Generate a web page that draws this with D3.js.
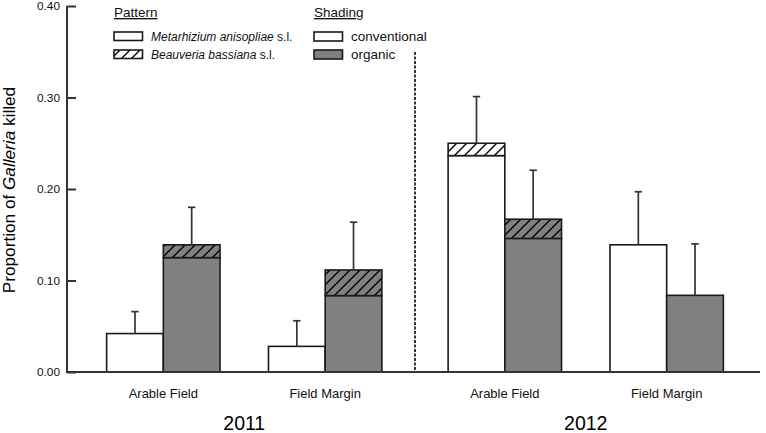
<!DOCTYPE html>
<html>
<head>
<meta charset="utf-8">
<script src="https://cdn.jsdelivr.net/npm/d3@7"></script>
<style>
  html, body { margin: 0; padding: 0; background: #fff; }
  svg { display: block; font-family: "Liberation Sans", Arial, sans-serif; }
</style>
</head>
<body>
<svg id="chart" width="766" height="433"></svg>
<script>
// ---- data ----
const years = ["2011", "2012"];
const habitats = ["Arable Field", "Field Margin"];
const managements = ["conventional", "organic"];
// order: 2011 AF conv, 2011 AF org, 2011 FM conv, 2011 FM org, 2012 AF conv, 2012 AF org, 2012 FM conv, 2012 FM org
const metarhizium = [0.042, 0.125, 0.028, 0.0835, 0.2365, 0.146, 0.139, 0.0838];
const beauveria   = [0.000, 0.014, 0.000, 0.0280, 0.0135, 0.021, 0.000, 0.0000];
const upperError  = [0.066, 0.180, 0.056, 0.1637, 0.301, 0.2205, 0.197, 0.140];
const yTicks = [0, 0.1, 0.2, 0.3, 0.4];

const records = [];
let k = 0;
years.forEach(y => habitats.forEach(h => managements.forEach(m => {
  records.push({year: y, habitat: h, management: m,
    meta: metarhizium[k], beau: beauveria[k], err: upperError[k]});
  k++;
})));

// ---- layout ----
const svg = d3.select("#chart");
const left = 66.5, baseY = 372, topY = 6, right = 760;

const y = d3.scaleLinear().domain([0, 0.4]).range([baseY, topY]);
const xYear = d3.scaleBand().domain(years).range([73.5, 756.5]).padding(0);
const xHab = d3.scalePoint().domain(habitats).range([0, xYear.bandwidth()]).padding(0.555);
const barW = 56.7;
const xMan = d3.scaleBand().domain(managements).range([-barW, barW]).padding(0);
const fillOf = {conventional: "#ffffff", organic: "#808080"};

// hatch pattern
const defs = svg.append("defs");
const pat = defs.append("pattern").attr("id", "hatch")
  .attr("patternUnits", "userSpaceOnUse").attr("width", 10).attr("height", 10);
pat.append("path").attr("d", "M0,10 L10,0 M-2,2 L2,-2 M8,12 L12,8")
  .attr("stroke", "#000").attr("stroke-width", 1.4).attr("fill", "none");

const cx = d => xYear(d.year) + xHab(d.habitat);

// bars
const g = svg.append("g");
const bars = g.selectAll("g.bar").data(records).join("g").attr("class", "bar");
// Metarhizium (plain) part
bars.append("rect")
  .attr("x", d => cx(d) + xMan(d.management))
  .attr("width", xMan.bandwidth())
  .attr("y", d => y(d.meta))
  .attr("height", d => y(0) - y(d.meta))
  .attr("fill", d => fillOf[d.management])
  .attr("stroke", "#1a1a1a").attr("stroke-width", 1.6);
// Beauveria (hatched) part
const hb = bars.filter(d => d.beau > 0);
hb.append("rect")
  .attr("x", d => cx(d) + xMan(d.management))
  .attr("width", xMan.bandwidth())
  .attr("y", d => y(d.meta + d.beau))
  .attr("height", d => y(d.meta) - y(d.meta + d.beau))
  .attr("fill", d => fillOf[d.management]);
hb.append("rect")
  .attr("x", d => cx(d) + xMan(d.management))
  .attr("width", xMan.bandwidth())
  .attr("y", d => y(d.meta + d.beau))
  .attr("height", d => y(d.meta) - y(d.meta + d.beau))
  .attr("fill", "url(#hatch)")
  .attr("stroke", "#1a1a1a").attr("stroke-width", 1.6);

// error bars (upper only)
const eb = bars.append("g").attr("stroke", "#333").attr("stroke-width", 1.7);
eb.append("line")
  .attr("x1", d => cx(d) + xMan(d.management) + xMan.bandwidth() / 2)
  .attr("x2", d => cx(d) + xMan(d.management) + xMan.bandwidth() / 2)
  .attr("y1", d => y(d.meta + d.beau))
  .attr("y2", d => y(d.err));
eb.append("line")
  .attr("x1", d => cx(d) + xMan(d.management) + xMan.bandwidth() / 2 - 3.7)
  .attr("x2", d => cx(d) + xMan(d.management) + xMan.bandwidth() / 2 + 3.7)
  .attr("y1", d => y(d.err))
  .attr("y2", d => y(d.err));

// divider dashed line
svg.append("line")
  .attr("x1", xYear(years[1])).attr("x2", xYear(years[1]))
  .attr("y1", 52).attr("y2", baseY)
  .attr("stroke", "#222").attr("stroke-width", 1.8)
  .attr("stroke-dasharray", "3,1.5");

// x baseline
svg.append("line")
  .attr("x1", left).attr("x2", right)
  .attr("y1", baseY).attr("y2", baseY)
  .attr("stroke", "#333").attr("stroke-width", 2);

// y axis
const yAxis = d3.axisLeft(y).tickValues(yTicks).tickFormat(d3.format(".2f"))
  .tickSizeInner(-9.5).tickSizeOuter(0).tickPadding(6.5);
const ya = svg.append("g").attr("transform", `translate(${left},0)`).call(yAxis);
ya.select(".domain").attr("stroke", "#333").attr("stroke-width", 2);
ya.selectAll(".tick line").attr("stroke", "#333").attr("stroke-width", 2);
ya.selectAll(".tick text").attr("font-size", "11.8px").attr("fill", "#111")
  .attr("font-family", "Liberation Sans, Arial, sans-serif");

// y axis title
const yt = svg.append("text")
  .attr("transform", `translate(15,${(topY + baseY) / 2 + 1}) rotate(-90)`)
  .attr("text-anchor", "middle").attr("font-size", "17.2px").attr("fill", "#000");
yt.append("tspan").text("Proportion of ");
yt.append("tspan").attr("font-style", "italic").text("Galleria");
yt.append("tspan").text(" killed");

// category labels
const catG = svg.append("g");
years.forEach(yr => habitats.forEach(h => {
  catG.append("text")
    .attr("x", xYear(yr) + xHab(h)).attr("y", 397.5)
    .attr("text-anchor", "middle").attr("font-size", "13px").attr("fill", "#111")
    .text(h);
}));
// year labels
svg.selectAll("text.year").data(years).join("text").attr("class", "year")
  .attr("x", d => xYear(d) + xYear.bandwidth() / 2).attr("y", 430)
  .attr("text-anchor", "middle").attr("font-size", "19.5px").attr("fill", "#000")
  .text(d => d);

// ---- legend ----
const lg = svg.append("g");
// Pattern
lg.append("text").attr("x", 114).attr("y", 17).attr("font-size", "13.5px")
  .attr("fill", "#111").attr("text-decoration", "underline").text("Pattern");
const patternItems = [
  {label: "Metarhizium anisopliae", hatch: false},
  {label: "Beauveria bassiana", hatch: true}
];
patternItems.forEach((p, i) => {
  const yy = 32 + i * 18;
  lg.append("rect").attr("x", 114).attr("y", yy).attr("width", 28.5).attr("height", 8.5)
    .attr("fill", p.hatch ? "url(#hatch)" : "#fff").attr("stroke", "#1a1a1a").attr("stroke-width", 1.6);
  const t = lg.append("text").attr("x", 151).attr("y", yy + 9).attr("font-size", "12px").attr("fill", "#111");
  t.append("tspan").attr("font-style", "italic").text(p.label);
  t.append("tspan").text(" s.l.");
});
// Shading
lg.append("text").attr("x", 314).attr("y", 17).attr("font-size", "13.5px")
  .attr("fill", "#111").attr("text-decoration", "underline").text("Shading");
managements.forEach((m, i) => {
  const yy = 32 + i * 18;
  lg.append("rect").attr("x", 314).attr("y", yy).attr("width", 28.5).attr("height", 9)
    .attr("fill", fillOf[m]).attr("stroke", "#1a1a1a").attr("stroke-width", 1.6);
  lg.append("text").attr("x", 351).attr("y", yy + 9).attr("font-size", "13.5px")
    .attr("fill", "#111").text(m);
});
</script>
</body>
</html>
